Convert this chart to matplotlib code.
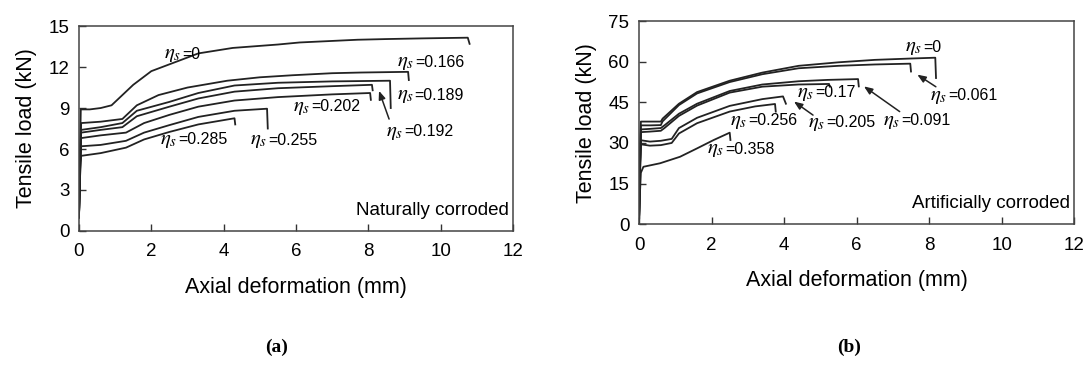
import matplotlib.pyplot as plt

plt.rcParams['font.family'] = 'Liberation Sans'
plt.rcParams['mathtext.fontset'] = 'stix'

# (a) naturally corroded: deformation (mm) / load (kN)
nat_labels = ['0', '0.166', '0.189', '0.192', '0.202', '0.255', '0.285']
nat_x = [
    [0, 0.03, 0.05, 0.3, 0.6, 0.9, 1.1, 1.5, 2.0, 2.4, 3.3, 4.25, 5.5, 6.1, 7.7, 8.5, 9.5, 10.75, 10.8],
    [0, 0.03, 0.06, 0.6, 1.2, 1.6, 2.2, 3.0, 4.1, 5.0, 5.9, 7.0, 7.8, 9.1, 9.12],
    [0, 0.03, 0.06, 0.6, 1.2, 1.6, 2.5, 3.3, 4.3, 5.5, 7.0, 8.6, 8.62],
    [0, 0.03, 0.06, 0.6, 1.2, 1.6, 2.5, 3.3, 4.3, 5.5, 7.0, 8.1, 8.12],
    [0, 0.03, 0.06, 0.6, 1.3, 1.8, 2.5, 3.3, 4.3, 5.5, 7.0, 8.05, 8.07],
    [0, 0.03, 0.06, 0.6, 1.3, 1.8, 2.5, 3.3, 4.3, 5.2, 5.22],
    [0, 0.03, 0.06, 0.6, 1.3, 1.8, 2.5, 3.3, 4.3, 4.32],
]
nat_y = [
    [1.0, 6.0, 8.9, 8.9, 9.0, 9.2, 9.7, 10.7, 11.7, 12.1, 13.0, 13.4, 13.65, 13.8, 14.0, 14.05, 14.1, 14.15, 13.7],
    [1.0, 5.0, 7.9, 8.0, 8.2, 9.2, 9.95, 10.5, 11.0, 11.25, 11.4, 11.55, 11.6, 11.65, 11.05],
    [1.0, 5.0, 7.4, 7.6, 7.9, 8.8, 9.45, 10.1, 10.65, 10.85, 10.95, 11.0, 9.0],
    [1.0, 5.0, 7.2, 7.4, 7.6, 8.4, 9.1, 9.7, 10.2, 10.45, 10.6, 10.7, 10.3],
    [1.0, 5.0, 6.8, 7.0, 7.2, 7.9, 8.5, 9.1, 9.55, 9.8, 10.0, 10.1, 9.6],
    [1.0, 4.5, 6.2, 6.3, 6.6, 7.2, 7.75, 8.35, 8.8, 8.95, 7.5],
    [1.0, 4.0, 5.5, 5.7, 6.1, 6.7, 7.25, 7.8, 8.25, 7.8],
]

# (b) artificially corroded
art_labels = ['0', '0.061', '0.091', '0.17', '0.205', '0.256', '0.358']
art_x = [
    [0, 0.02, 0.05, 0.3, 0.6, 0.65, 1.1, 1.6, 2.5, 3.4, 4.4, 5.5, 6.5, 7.5, 8.17, 8.19],
    [0, 0.02, 0.05, 0.3, 0.6, 0.65, 1.1, 1.6, 2.5, 3.4, 4.4, 5.5, 6.5, 7.48, 7.5],
    [0, 0.02, 0.05, 0.3, 0.6, 0.7, 1.1, 1.6, 2.5, 3.4, 4.4, 5.2, 6.04, 6.06],
    [0, 0.02, 0.05, 0.3, 0.6, 0.7, 1.1, 1.6, 2.5, 3.4, 4.4, 5.24, 5.26],
    [0, 0.02, 0.05, 0.3, 0.6, 0.9, 1.1, 1.6, 2.5, 3.4, 3.97, 4.05],
    [0, 0.02, 0.05, 0.3, 0.6, 0.9, 1.1, 1.6, 2.5, 3.2, 3.75, 3.77],
    [0, 0.02, 0.05, 0.12, 0.58, 1.13, 1.6, 2.06, 2.5, 2.52],
]
art_y = [
    [1, 20, 37.9, 37.9, 37.9, 39, 44.5, 48.8, 53, 56, 58.5, 59.8, 60.7, 61.2, 61.5, 54],
    [1, 18, 36.5, 36.5, 36.6, 38, 44, 48.3, 52.5, 55.4, 57.6, 58.5, 59.0, 59.3, 56.4],
    [1, 18, 35, 35.2, 35.5, 36.5, 40.8, 44.5, 49.2, 51.6, 52.8, 53.3, 53.6, 50.9],
    [1, 18, 34, 34.2, 34.5, 35.5, 40, 43.8, 48.6, 50.8, 51.6, 51.8, 50.8],
    [1, 16, 31, 30.5, 30.8, 31.5, 35.5, 39.3, 43.7, 46.2, 47.2, 44.5],
    [1, 15, 29.5, 29, 29.2, 30, 33.5, 37.3, 41.6, 43.5, 44.4, 41.6],
    [1, 10, 19, 21.2, 22.5, 24.9, 28, 31.1, 33.8, 31.1],
]

# label positions (text left edge, centre) and optional arrow targets
nat_text = [(2.35, 12.9), (8.8, 12.3), (8.78, 9.9), (8.5, 7.2), (5.92, 9.05), (4.72, 6.6), (2.24, 6.65)]
nat_arrow = {'0.192': ((8.6, 8.0), (8.27, 10.45))}
art_text = [(7.34, 65.1), (8.03, 47.2), (6.74, 37.9), (4.35, 48.4), (4.67, 37.3), (2.51, 37.9), (1.87, 27.4)]
art_arrow = {'0.061': ((8.25, 50.2), (7.61, 55.8)),
             '0.091': ((7.25, 41.0), (6.14, 51.5)),
             '0.205': ((4.86, 39.7), (4.21, 45.9))}

fig = plt.figure(figsize=(10.85, 3.78), dpi=100)
ax1 = fig.add_axes([0.0728, 0.389, 0.400, 0.542])
ax2 = fig.add_axes([0.589, 0.407, 0.401, 0.537])

panels = [
    (ax1, nat_x, nat_y, nat_labels, nat_text, nat_arrow, 15, 3, 'Naturally corroded'),
    (ax2, art_x, art_y, art_labels, art_text, art_arrow, 75, 15, 'Artificially corroded'),
]
for ax, xs, ys, labs, tpos, arrows, ymax, ystep, note in panels:
    for x, y in zip(xs, ys):
        ax.plot(x, y, color='#222222', lw=1.3)
    for lab, (tx, ty) in zip(labs, tpos):
        # larger italic eta, then the value in sans
        ax.annotate(r'$\eta_s$', (tx, ty), fontsize=15, va='center', ha='left')
        ax.annotate('=' + lab, (tx, ty), xytext=(13, 0.5), textcoords='offset points',
                    fontsize=11.5, va='center', ha='left')
        if lab in arrows:
            (sx, sy), (ex, ey) = arrows[lab]
            ax.annotate('', xy=(ex, ey), xytext=(sx, sy),
                        arrowprops=dict(arrowstyle='-|>,head_length=0.5,head_width=0.2',
                                        color='#222222', lw=1.1))
    ax.text(0.99, 0.1, note, transform=ax.transAxes, ha='right', va='center', fontsize=13.5)
    ax.set_xlim(0, 12)
    ax.set_ylim(0, ymax)
    ax.set_xticks(range(0, 13, 2))
    ax.set_yticks(range(0, ymax + 1, ystep))
    ax.tick_params(direction='in', length=5, width=1, labelsize=13.5, color='#333333')
    ax.tick_params(axis='x', pad=9)
    ax.tick_params(axis='y', pad=7)
    for s in ax.spines.values():
        s.set_linewidth(1.1)
        s.set_color('#444444')
    ax.set_xlabel('Axial deformation (mm)', fontsize=15.5, labelpad=12)
    ax.set_ylabel('Tensile load (kN)', fontsize=15.5, labelpad=8)

fig.text(0.255, 0.08, '(a)', fontsize=14, fontweight='bold', family='Liberation Serif', ha='center', va='center')
fig.text(0.783, 0.08, '(b)', fontsize=14, fontweight='bold', family='Liberation Serif', ha='center', va='center')

fig.savefig('out.png', dpi=100)
